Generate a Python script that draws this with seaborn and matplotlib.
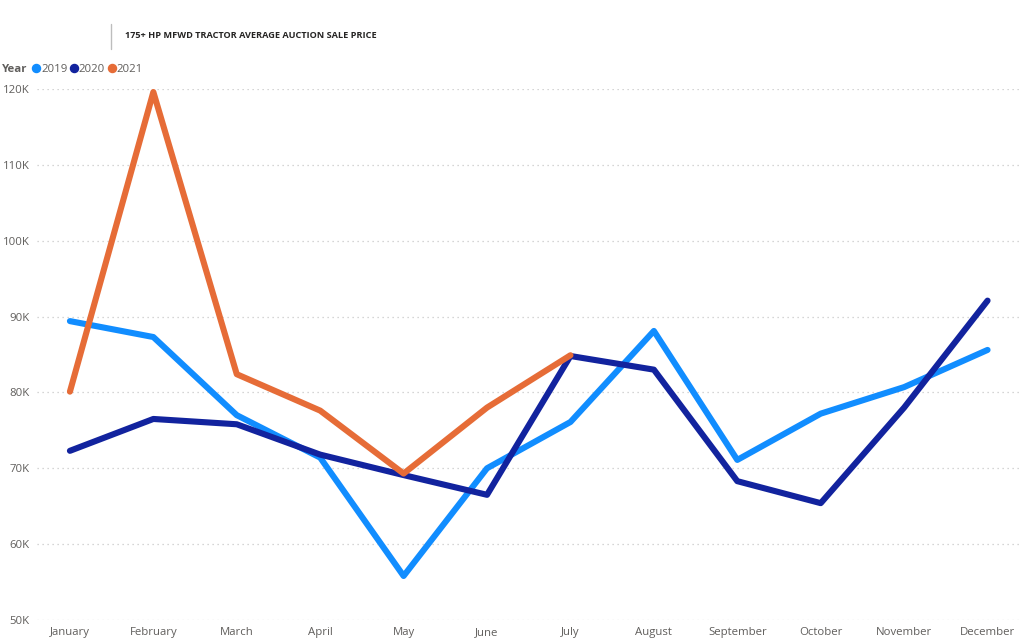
import pandas as pd
import seaborn as sns
import matplotlib.pyplot as plt
from matplotlib.lines import Line2D

# monthly average auction sale price (USD)
months = ['January', 'February', 'March', 'April', 'May', 'June', 'July',
          'August', 'September', 'October', 'November', 'December']
price_2019 = [89400, 87300, 77000, 71400, 55800, 70000, 76100, 88100, 71100, 77200, 80700, 85600]
price_2020 = [72300, 76500, 75800, 71800, 69100, 66500, 84800, 83000, 68300, 65400, 78000, 92100]
price_2021 = [80100, 119600, 82400, 77600, 69300, 78000, 84900]
years = ['2019', '2020', '2021']
colors = ['#118DFF', '#12239E', '#E66C37']

# long-form table for seaborn
rows = []
for year, values in zip(years, [price_2019, price_2020, price_2021]):
    for month, value in zip(months, values):
        rows.append({'Month': month, 'Price': value, 'Year': year})
df = pd.DataFrame(rows)

sns.set_style('white')
plt.rcParams['font.family'] = ['Open Sans', 'DejaVu Sans']

fig = plt.figure(figsize=(10.24, 6.42), dpi=100)
ax = fig.add_axes([0.0357, 0.0343, 0.9613, 0.8271])

sns.lineplot(data=df, x='Month', y='Price', hue='Year', hue_order=years,
             palette=colors, linewidth=4.4, sort=False, legend=False, ax=ax)
for line in ax.lines:
    line.set_clip_on(False)

ax.set_xlim(-0.4, 11.4)
ax.set_ylim(50000, 120000)
ticks = list(range(50000, 120001, 10000))
ax.set_yticks(ticks)
ax.set_yticklabels([f'{t // 1000}K' for t in ticks])
ax.grid(axis='y', color='#C8C8C8', linestyle=(0, (1, 3)), linewidth=0.9)
ax.set_axisbelow(True)
sns.despine(ax=ax, left=True, bottom=True)
ax.set_xlabel('')
ax.set_ylabel('')
ax.tick_params(axis='both', length=0, labelsize=8.2, colors='#605E5C')
ax.tick_params(axis='y', pad=5)
ax.tick_params(axis='x', pad=5)

# title with divider line
fig.add_artist(Line2D([111 / 1024, 111 / 1024], [1 - 24 / 642, 1 - 49 / 642],
                      color='#BDBDBD', linewidth=1))
fig.text(125 / 1024, 1 - 36 / 642, '175+ HP MFWD TRACTOR AVERAGE AUCTION SALE PRICE',
         fontsize=6.6, fontweight='bold', color='#252423', va='center')

# legend row
fig.text(2 / 1024, 1 - 69 / 642, 'Year', fontsize=8.2, fontweight='bold',
         color='#605E5C', va='center')
handles = [Line2D([], [], marker='o', linestyle='', markersize=5.8, color=c) for c in colors]
fig.legend(handles, years, loc='center left', bbox_to_anchor=(33 / 1024, 1 - 69 / 642),
           ncol=3, frameon=False, fontsize=8.2, handlelength=0.55, handletextpad=0.15,
           columnspacing=0.3, borderpad=0, borderaxespad=0, labelcolor='#605E5C')

fig.savefig('out.png', dpi=100)
